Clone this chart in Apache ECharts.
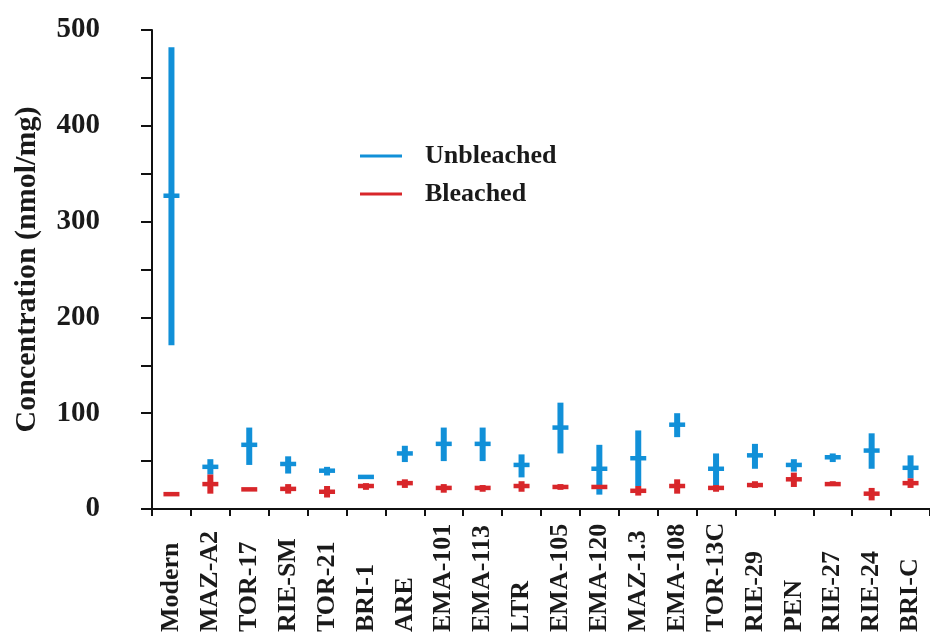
<!DOCTYPE html>
<html>
<head>
<meta charset="utf-8">
<script src="https://cdn.jsdelivr.net/npm/echarts@6/dist/echarts.min.js"></script>
<style>
  html, body { margin: 0; padding: 0; background: #fff; }
  #chart { width: 930px; height: 635px; }
</style>
</head>
<body>
<div id="chart"></div>
<script>
// Sample names along the x axis
const categories = ['Modern', 'MAZ-A2', 'TOR-17', 'RIE-SM', 'TOR-21', 'BRI-1', 'ARE',
  'EMA-101', 'EMA-113', 'LTR', 'EMA-105', 'EMA-120', 'MAZ-1.3', 'EMA-108',
  'TOR-13C', 'RIE-29', 'PEN', 'RIE-27', 'RIE-24', 'BRI-C'];

// Unbleached concentration: range (low..high) and mean, nmol/mg
const unbleachedLow  = [171, 36, 46, 37, 35, 33, 49, 50, 50, 33, 58, 15, 24, 75, 25, 42, 39, 49, 42, 32];
const unbleachedMean = [327, 44, 67, 47, 40, 33.5, 58, 68, 68, 46, 85, 42, 53, 88, 42, 56, 46, 54, 61, 43];
const unbleachedHigh = [482, 52, 85, 55, 44, 34, 66, 85, 85, 57, 111, 67, 82, 100, 58, 68, 52, 58, 79, 56];

// Bleached concentration: range (low..high) and mean, nmol/mg
const bleachedLow  = [15, 16, 20, 16, 12, 20, 22, 17, 18, 18, 20, 22.5, 14, 16, 18, 22, 23, 24, 9, 22];
const bleachedMean = [15.5, 26, 20.5, 21, 18, 24, 27, 22, 22, 24, 23, 23, 19, 24, 22, 25, 31, 26, 16, 27];
const bleachedHigh = [16, 36, 21, 26, 24, 27, 31, 26, 25, 29, 26, 23.5, 24, 31, 25, 29, 38, 29, 22, 32];

// Y axis tick labels (only every other tick carries a label)
const yTickLabels = [0, 100, 200, 300, 400, 500];

const BLUE = '#1190d8';
const RED = '#d8262a';
const FONT = '"Liberation Serif", "Times New Roman", serif';

function rows(low, mean, high) {
  return categories.map((c, i) => [i, low[i], mean[i], high[i]]);
}

// Vertical range line with a short horizontal bar at the mean
function renderRange(params, api) {
  const i = api.value(0);
  const lo = api.coord([i, api.value(1)]);
  const mid = api.coord([i, api.value(2)]);
  const hi = api.coord([i, api.value(3)]);
  const color = api.visual('color');
  return {
    type: 'group',
    children: [
      { type: 'rect',
        shape: { x: lo[0] - 3, y: hi[1], width: 6, height: Math.max(lo[1] - hi[1], 0) },
        style: { fill: color } },
      { type: 'rect',
        shape: { x: mid[0] - 8, y: mid[1] - 2.25, width: 16, height: 4.5 },
        style: { fill: color } }
    ]
  };
}

const chart = echarts.init(document.getElementById('chart'), null, { renderer: 'canvas' });

chart.setOption({
  backgroundColor: '#ffffff',
  animation: false,
  grid: { left: 152, top: 30, width: 779, height: 479, containLabel: false },
  legend: {
    orient: 'vertical',
    left: 360,
    top: 142,
    padding: 0,
    icon: 'rect',
    itemWidth: 42,
    itemHeight: 3,
    itemGap: 10,
    selectedMode: false,
    textStyle: {
      fontFamily: FONT, fontWeight: 'bold', fontSize: 26, color: '#1a1a1a',
      lineHeight: 28, padding: [0, 0, 0, 18]
    },
    data: ['Unbleached', 'Bleached']
  },
  xAxis: {
    type: 'category',
    data: categories,
    boundaryGap: true,
    axisLine: { show: true, lineStyle: { color: '#111', width: 2 } },
    axisTick: { show: true, length: 7, alignWithLabel: false, lineStyle: { color: '#111', width: 2 } },
    axisLabel: {
      rotate: 90,
      align: 'left',
      margin: 123,
      interval: 0,
      fontFamily: FONT, fontWeight: 'bold', fontSize: 26, color: '#1a1a1a'
    },
    splitLine: { show: false }
  },
  yAxis: {
    type: 'value',
    min: 0,
    max: 500,
    interval: 50,
    name: 'Concentration (nmol/mg)',
    nameLocation: 'middle',
    nameGap: 110,
    nameTextStyle: { fontFamily: FONT, fontWeight: 'bold', fontSize: 30, color: '#1a1a1a' },
    axisLine: { show: true, lineStyle: { color: '#111', width: 2 } },
    axisTick: { show: true, length: 11, lineStyle: { color: '#111', width: 2 } },
    axisLabel: {
      margin: 52,
      fontFamily: FONT, fontWeight: 'bold', fontSize: 29, color: '#1a1a1a',
      formatter: v => (yTickLabels.indexOf(v) >= 0 ? String(v) : '')
    },
    splitLine: { show: false }
  },
  series: [
    {
      name: 'Unbleached',
      type: 'custom',
      renderItem: renderRange,
      itemStyle: { color: BLUE },
      encode: { x: 0, y: [1, 2, 3] },
      data: rows(unbleachedLow, unbleachedMean, unbleachedHigh),
      z: 2
    },
    {
      name: 'Bleached',
      type: 'custom',
      renderItem: renderRange,
      itemStyle: { color: RED },
      encode: { x: 0, y: [1, 2, 3] },
      data: rows(bleachedLow, bleachedMean, bleachedHigh),
      z: 3
    }
  ]
});
</script>
</body>
</html>
